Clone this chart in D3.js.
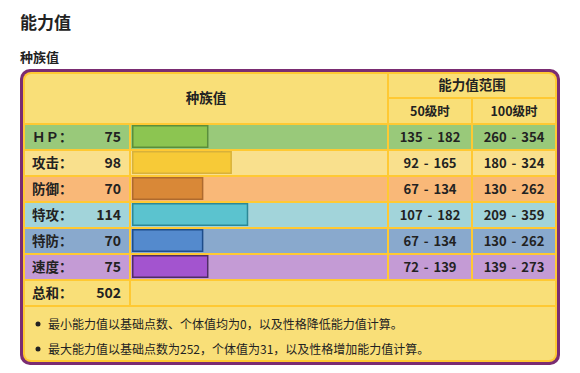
<!DOCTYPE html>
<html>
<head>
<meta charset="utf-8">
<script src="https://cdn.jsdelivr.net/npm/d3@7"></script>
<style>
  body { margin: 0; background: #fff; }
  svg text { font-family: "Noto Sans CJK SC", "Noto Sans", sans-serif; fill: #222; }
</style>
</head>
<body>
<svg id="chart"></svg>
<script>
const statNames = ['ＨＰ：', '攻击：', '防御：', '特攻：', '特防：', '速度：'];
const baseStats = [75, 98, 70, 114, 70, 75];
const min50 = [135, 92, 67, 107, 67, 72];
const max50 = [182, 165, 134, 182, 134, 139];
const min100 = [260, 180, 130, 209, 130, 139];
const max100 = [354, 324, 262, 359, 262, 273];
const totalLabel = '总和：';
const notes = [
  '最小能力值以基础点数、个体值均为0，以及性格降低能力值计算。',
  '最大能力值以基础点数为252，个体值为31，以及性格增加能力值计算。'
];

const rowBg = ['#99c97a', '#f9e08d', '#f9b878', '#a2d4da', '#89a9cd', '#c49bd5'];
const barFill = ['#8cc551', '#f7ca37', '#d98837', '#5bc3cf', '#548acd', '#a354cf'];
const barStroke = ['#5a8e3c', '#d8b13a', '#ae6a2e', '#2c8896', '#1e4d8a', '#4f2d66'];

const width = 580, height = 373;
const headBg = '#f9df78', gold = '#ffc933', purple = '#7a2c72';

const svg = d3.select('#chart').attr('width', width).attr('height', height);

svg.append('text').attr('x', 20).attr('y', 29)
   .style('font-size', '17px').style('font-weight', 'bold').text('能力值');
svg.append('text').attr('x', 20).attr('y', 62)
   .style('font-size', '13px').style('font-weight', 'bold').text('种族值');

// frame
svg.append('rect').attr('x', 20).attr('y', 69).attr('width', 540).attr('height', 296)
   .attr('rx', 10).attr('fill', purple);
svg.append('rect').attr('x', 23).attr('y', 72).attr('width', 534).attr('height', 290)
   .attr('rx', 8).attr('fill', gold);

svg.append('clipPath').attr('id', 'inner')
   .append('rect').attr('x', 25).attr('y', 74).attr('width', 530).attr('height', 286).attr('rx', 6);

const g = svg.append('g').attr('clip-path', 'url(#inner)');

const rows = statNames.map((d, i) => i).concat(['total']);
const y = d3.scaleBand().domain(rows).range([125, 125 + rows.length * 26 - 2]).paddingInner(2 / 26);
const x = d3.scaleLinear().domain([0, 255]).range([0, 260]);

const cols = {label: [25, 104], bar: [131, 256], l50: [389, 82], l100: [473, 82]};

// header
g.append('rect').attr('x', 25).attr('y', 74).attr('width', 362).attr('height', 49).attr('fill', headBg);
g.append('rect').attr('x', 389).attr('y', 74).attr('width', 166).attr('height', 23).attr('fill', headBg);
g.append('rect').attr('x', 389).attr('y', 99).attr('width', 82).attr('height', 24).attr('fill', headBg);
g.append('rect').attr('x', 473).attr('y', 99).attr('width', 82).attr('height', 24).attr('fill', headBg);

const head = [['种族值', 206, 103], ['能力值范围', 472, 90], ['50级时', 430, 116], ['100级时', 514, 116]];
g.selectAll('text.head').data(head).enter().append('text')
 .attr('class', 'head').attr('x', d => d[1]).attr('y', d => d[2])
 .attr('text-anchor', 'middle')
 .style('font-size', (d, i) => i < 2 ? '13.5px' : '12.5px').style('font-weight', 'bold')
 .text(d => d[0]);

// stat rows
const stat = g.selectAll('g.stat').data(statNames).enter().append('g')
              .attr('class', 'stat').attr('transform', (d, i) => `translate(0,${y(i)})`);

Object.values(cols).forEach(c => {
  stat.append('rect').attr('x', c[0]).attr('width', c[1]).attr('height', y.bandwidth())
      .attr('fill', (d, i) => rowBg[i]);
});

stat.append('rect')
    .attr('x', 132.75).attr('y', 0.75)
    .attr('width', (d, i) => x(baseStats[i]) - 1.5)
    .attr('height', y.bandwidth() - 2.5)
    .attr('fill', (d, i) => barFill[i])
    .attr('stroke', (d, i) => barStroke[i])
    .attr('stroke-width', 1.5);

stat.append('text').attr('x', 32).attr('y', 17)
    .style('font-size', '13.5px').style('font-weight', 'bold').text(d => d);
stat.append('text').attr('x', 121).attr('y', 17).attr('text-anchor', 'end')
    .style('font-size', '14px').style('font-weight', 'bold').text((d, i) => baseStats[i]);
stat.append('text').attr('x', 430).attr('y', 17).attr('text-anchor', 'middle')
    .style('font-size', '13px').style('font-weight', 'bold').style('word-spacing', '2px')
    .text((d, i) => min50[i] + ' - ' + max50[i]);
stat.append('text').attr('x', 514).attr('y', 17).attr('text-anchor', 'middle')
    .style('font-size', '13px').style('font-weight', 'bold').style('word-spacing', '2px')
    .text((d, i) => min100[i] + ' - ' + max100[i]);

// total row
const tot = g.append('g').attr('transform', `translate(0,${y('total')})`);
tot.append('rect').attr('x', 25).attr('width', 104).attr('height', y.bandwidth()).attr('fill', headBg);
tot.append('rect').attr('x', 131).attr('width', 424).attr('height', y.bandwidth()).attr('fill', headBg);
tot.append('text').attr('x', 32).attr('y', 17)
   .style('font-size', '13.5px').style('font-weight', 'bold').text(totalLabel);
tot.append('text').attr('x', 121).attr('y', 17).attr('text-anchor', 'end')
   .style('font-size', '14px').style('font-weight', 'bold').text(d3.sum(baseStats));

// notes
const noteTop = y('total') + 26;
g.append('rect').attr('x', 25).attr('y', noteTop).attr('width', 530).attr('height', 60).attr('fill', headBg);
const note = g.selectAll('g.note').data(notes).enter().append('g')
              .attr('class', 'note').attr('transform', (d, i) => `translate(0,${noteTop + 17 + i * 25})`);
note.append('circle').attr('cx', 38).attr('cy', 0).attr('r', 2.5).attr('fill', '#222');
note.append('text').attr('x', 48).attr('y', 4.5).style('font-size', '12px').text(d => d);
</script>
</body>
</html>
